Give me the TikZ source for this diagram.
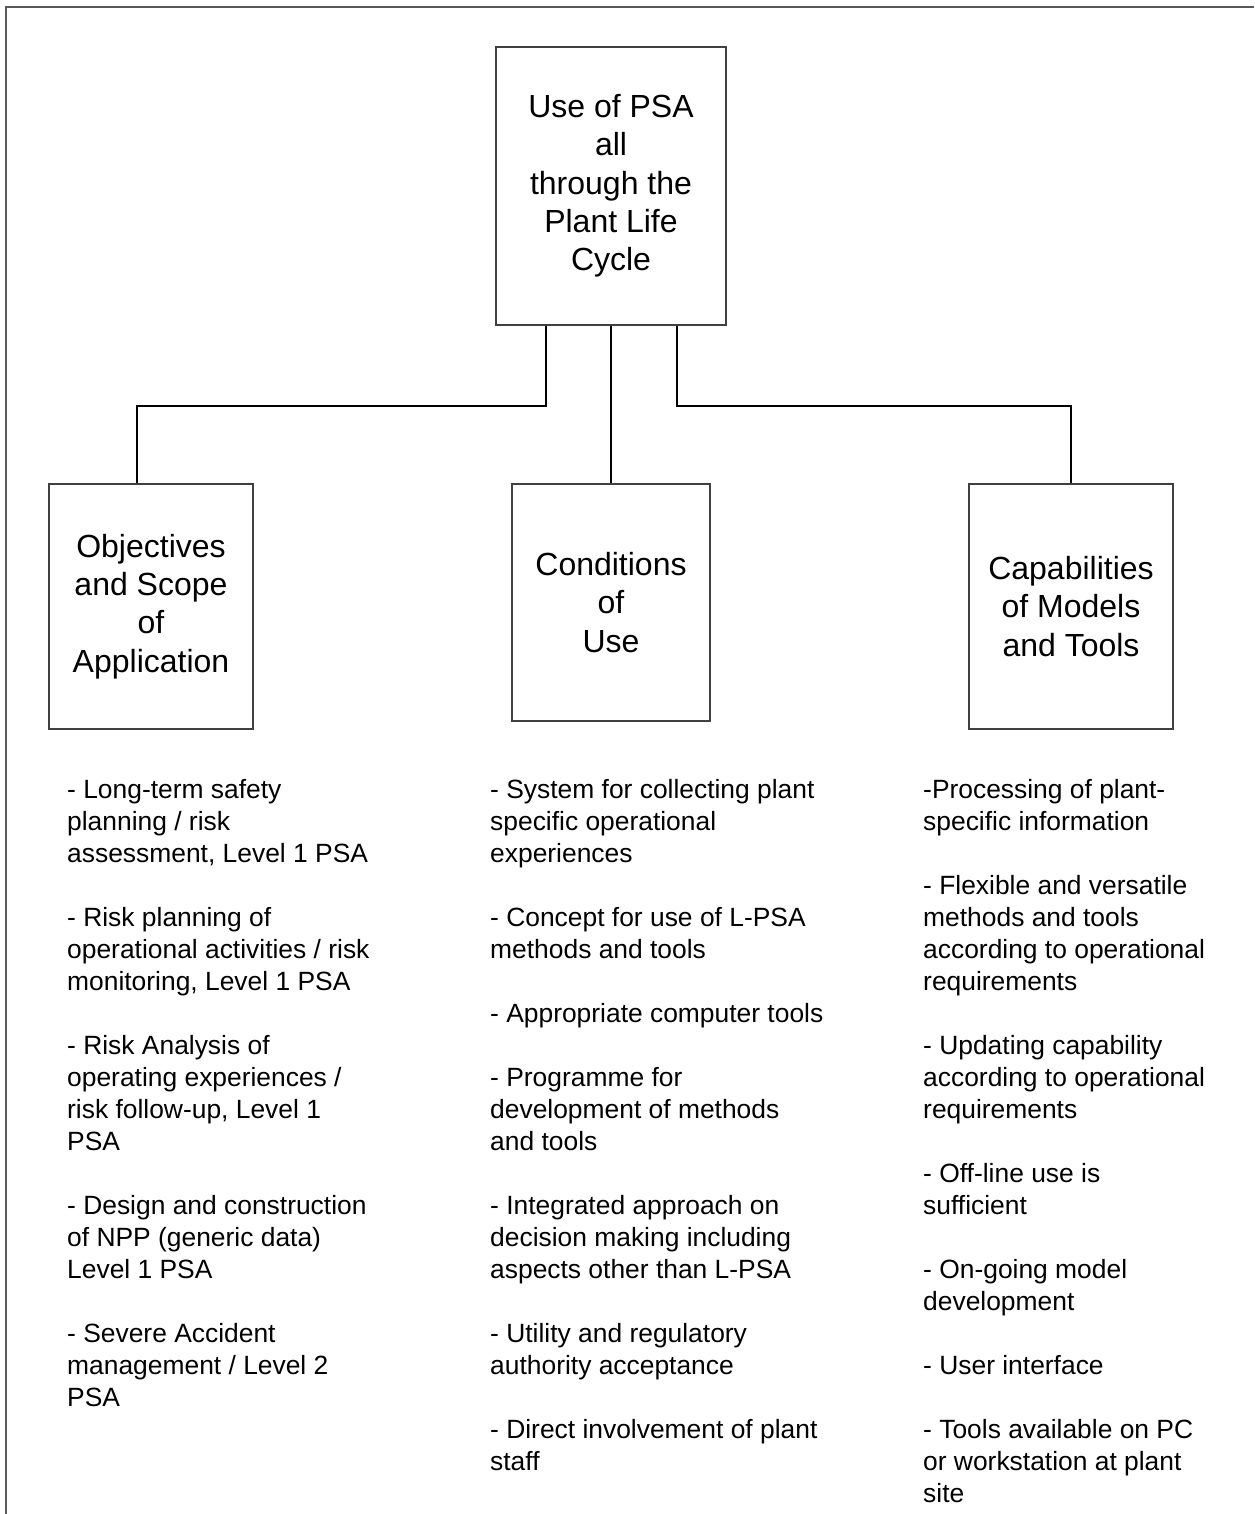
\documentclass[tikz,border=0pt]{standalone}
\usepackage{fontspec}
\setmainfont{Liberation Sans}
\begin{document}
\begin{tikzpicture}[x=1pt,y=1pt,
  box/.style={draw=black!75, line width=1.3pt, inner sep=0pt, align=center,
    font=\fontsize{32}{38.3}\selectfont},
  conn/.style={draw=black, line width=2.3pt},
  frame/.style={draw=black!65, line width=2.4pt},
  listtext/.style={anchor=base west, inner sep=0pt}]
\useasboundingbox (0,0) rectangle (1254,-1514);
\coordinate (fA) at (6,-1514);
\coordinate (fB) at (6,-7);
\coordinate (fC) at (1254,-7);
\draw[frame] (fA) -- (fB) -- (fC);

\node[box, minimum width=230pt, minimum height=278pt] (top) at (611,-186)
  {Use of PSA\\all\\through the\\Plant Life\\Cycle};
\node[box, minimum width=204pt, minimum height=245pt] (obj) at (151,-606.5)
  {Objectives\\and Scope\\of\\Application};
\node[box, minimum width=198pt, minimum height=237pt] (cond) at (611,-602.5)
  {Conditions\\of\\Use};
\node[box, minimum width=204pt, minimum height=245pt] (cap) at (1071,-606.5)
  {Capabilities\\of Models\\and Tools};

\draw[conn] ([xshift=-65pt]top.south) -- ++(0,-80) -| ([xshift=-14pt]obj.north);
\draw[conn] (top.south) -- (cond.north);
\draw[conn] ([xshift=66pt]top.south) -- ++(0,-80) -| (cap.north);

\newcommand{\gap}{\\[32pt]}
\node[listtext] (listA) at (67,-798) {\parbox[t]{420pt}{\fontsize{26.4}{32}\selectfont\raggedright
- Long-term safety\\planning / risk\\assessment, Level 1 PSA\gap
- Risk planning of\\operational activities / risk\\monitoring, Level 1 PSA\gap
- Risk Analysis of\\operating experiences /\\risk follow-up, Level 1\\PSA\gap
- Design and construction\\of NPP (generic data)\\Level 1 PSA\gap
- Severe Accident\\management / Level 2\\PSA}};
\node[listtext] (listB) at (490,-798) {\parbox[t]{420pt}{\fontsize{26.4}{32}\selectfont\raggedright
- System for collecting plant\\specific operational\\experiences\gap
- Concept for use of L-PSA\\methods and tools\gap
- Appropriate computer tools\gap
- Programme for\\development of methods\\and tools\gap
- Integrated approach on\\decision making including\\aspects other than L-PSA\gap
- Utility and regulatory\\authority acceptance\gap
- Direct involvement of plant\\staff}};
\node[listtext] (listC) at (923,-798) {\parbox[t]{420pt}{\fontsize{26.4}{32}\selectfont\raggedright
-Processing of plant-\\specific information\gap
- Flexible and versatile\\methods and tools\\according to operational\\requirements\gap
- Updating capability\\according to operational\\requirements\gap
- Off-line use is\\sufficient\gap
- On-going model\\development\gap
- User interface\gap
- Tools available on PC\\or workstation at plant\\site}};
\end{tikzpicture}
\end{document}
